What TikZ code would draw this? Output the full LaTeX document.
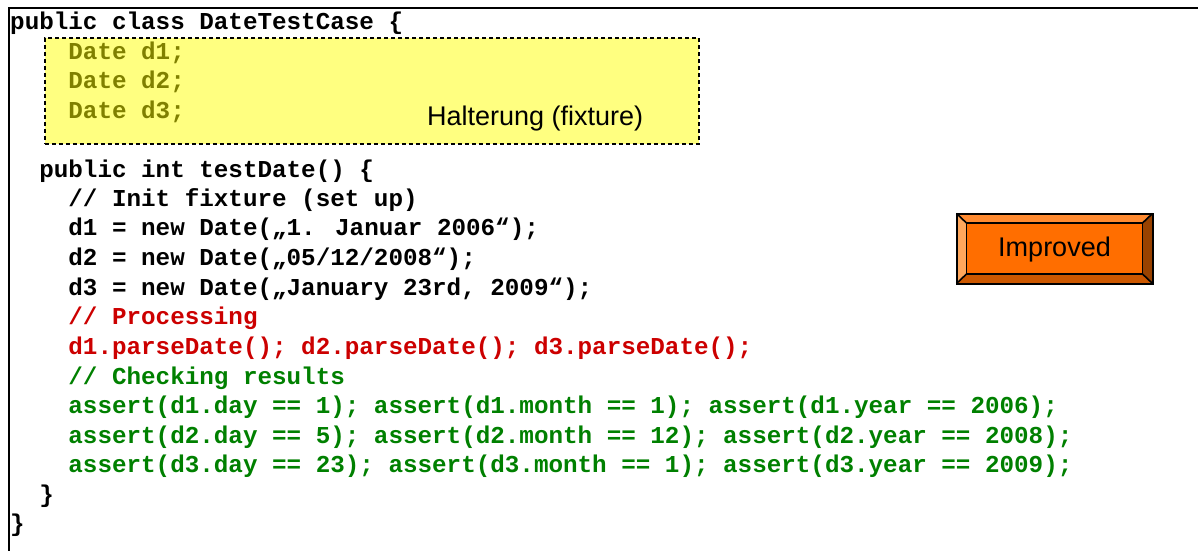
\documentclass[tikz,border=0pt]{standalone}
\usepackage{fontspec}
\setmainfont{Liberation Sans}
\newfontfamily\codefont{Liberation Mono}
\definecolor{codeolive}{HTML}{808000}
\definecolor{codered}{HTML}{CC0000}
\definecolor{codegreen}{HTML}{008000}
\definecolor{fixfill}{HTML}{FFFF80}
\definecolor{btnmid}{HTML}{FF6E00}
\definecolor{btnleft}{HTML}{FFA75C}
\definecolor{btntop}{HTML}{FF8A30}
\definecolor{btnright}{HTML}{994200}
\definecolor{btnbottom}{HTML}{CC5800}
\begin{document}
\begin{tikzpicture}[x=1pt,y=-1pt,
  codeline/.style={anchor=base west,inner sep=0pt,font=\codefont\bfseries\fontsize{24.25}{29.5}\selectfont},
  labeltext/.style={inner sep=0pt,font=\fontsize{27}{31}\selectfont}]
\useasboundingbox (0,0) rectangle (1198,550);
% frame
\draw[line width=2pt] (9,551) -- (9,8) -- (1199,8);
% fixture box
\node[draw,dashed,dash pattern=on 4pt off 3pt,line width=1.8pt,fill=fixfill,
  minimum width=654pt,minimum height=106pt,anchor=north west,inner sep=0pt] (fix) at (44,37) {};
\node[labeltext,anchor=base west] (halt) at (427,125) {Halterung (fixture)};
% code lines
\node[codeline] (l0) at (10,29.6) {public class DateTestCase \{};
\node[codeline,text=codeolive] (l1) at (68.2,59.15) {Date d1;};
\node[codeline,text=codeolive] (l2) at (68.2,88.7) {Date d2;};
\node[codeline,text=codeolive] (l3) at (68.2,118.25) {Date d3;};
\node[codeline] (l5) at (39.1,177.35) {public int testDate() \{};
\node[codeline] (l6) at (68.2,206.9) {// Init fixture (set up)};
\node[codeline] (l7) at (68.2,235.45) {d1 = new Date(„1. Januar 2006“);};
\node[codeline] (l8) at (68.2,265) {d2 = new Date(„05/12/2008“);};
\node[codeline] (l9) at (68.2,295) {d3 = new Date(„January 23rd, 2009“);};
\node[codeline,text=codered] (l10) at (68.2,324.6) {// Processing};
\node[codeline,text=codered] (l11) at (68.2,354.3) {d1.parseDate(); d2.parseDate(); d3.parseDate();};
\node[codeline,text=codegreen] (l12) at (68.2,384) {// Checking results};
\node[codeline,text=codegreen] (l13) at (68.2,413.75) {assert(d1.day == 1); assert(d1.month == 1); assert(d1.year == 2006);};
\node[codeline,text=codegreen] (l14) at (68.2,443.3) {assert(d2.day == 5); assert(d2.month == 12); assert(d2.year == 2008);};
\node[codeline,text=codegreen] (l15) at (68.2,472.85) {assert(d3.day == 23); assert(d3.month == 1); assert(d3.year == 2009);};
\node[codeline] (l16) at (39.1,502.4) {\}};
\node[codeline] (l17) at (10,531.95) {\}};
% Improved button (bevel)
\coordinate (o1) at (956.5,213.5); \coordinate (o2) at (1152.5,213.5);
\coordinate (o3) at (1152.5,283.5); \coordinate (o4) at (956.5,283.5);
\coordinate (i1) at (966.5,223); \coordinate (i2) at (1142.5,223);
\coordinate (i3) at (1142.5,274); \coordinate (i4) at (966.5,274);
\fill[btntop] (o1) -- (o2) -- (i2) -- (i1) -- cycle;
\fill[btnright] (o2) -- (o3) -- (i3) -- (i2) -- cycle;
\fill[btnbottom] (o3) -- (o4) -- (i4) -- (i3) -- cycle;
\fill[btnleft] (o4) -- (o1) -- (i1) -- (i4) -- cycle;
\draw[line width=1.6pt,fill=btnmid] (i1) rectangle (i3);
\draw[line width=1.6pt] (o1) -- (i1) (o2) -- (i2) (o3) -- (i3) (o4) -- (i4);
\draw[line width=2pt] (o1) rectangle (o3);
\node[labeltext] (imp) at (1054.5,249.5) {Improved};
\end{tikzpicture}
\end{document}
